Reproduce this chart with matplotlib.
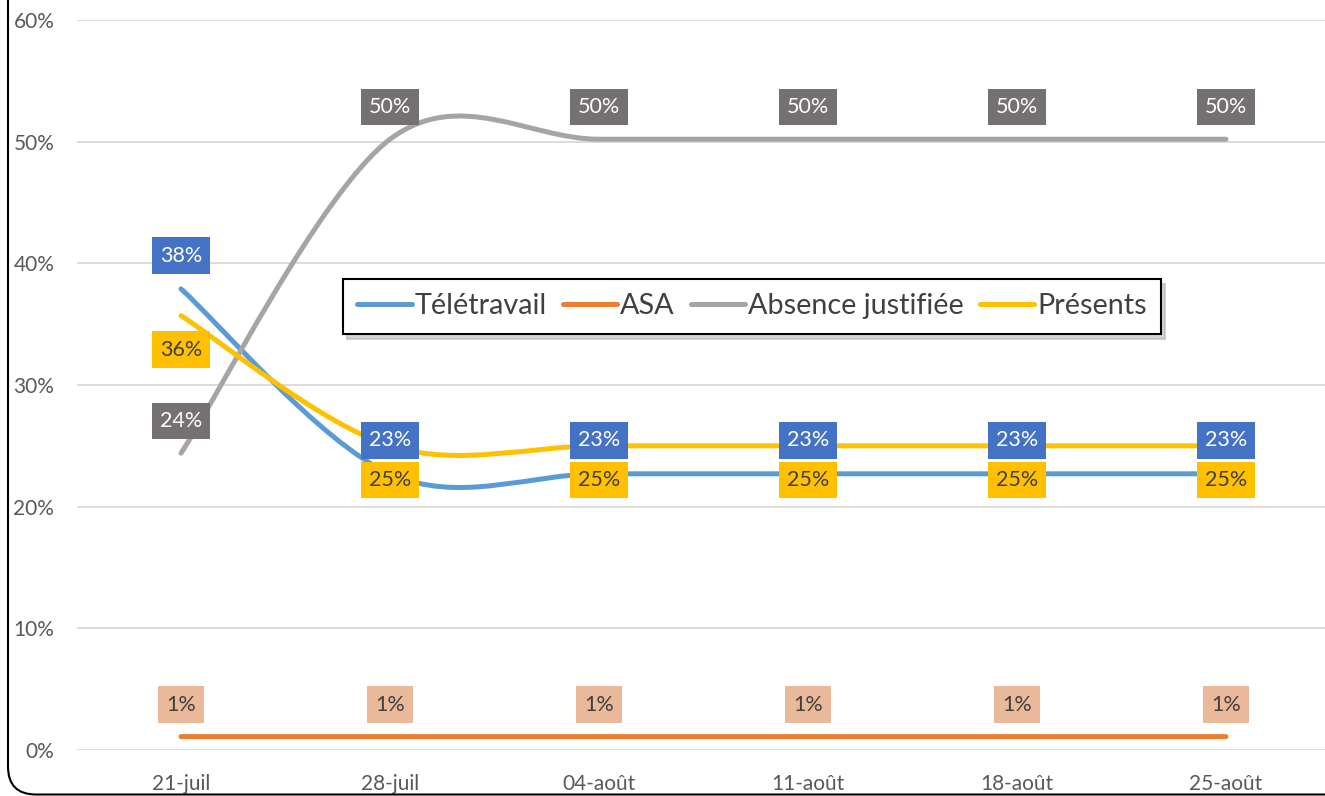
import matplotlib
matplotlib.use("Agg")
import matplotlib.pyplot as plt
from matplotlib.path import Path
from matplotlib.patches import PathPatch, FancyBboxPatch
from matplotlib.lines import Line2D
from matplotlib.transforms import IdentityTransform
import numpy as np

plt.rcParams['font.family'] = ['Lato', 'DejaVu Sans']

categories = ["21-juil", "28-juil", "04-août", "11-août", "18-août", "25-août"]
teletravail = [37.9, 22.7, 22.7, 22.7, 22.7, 22.7]
asa = [1.1, 1.1, 1.1, 1.1, 1.1, 1.1]
absence = [24.4, 50.2, 50.2, 50.2, 50.2, 50.2]
presents = [35.7, 25.0, 25.0, 25.0, 25.0, 25.0]
series_names = ["Télétravail", "ASA", "Absence justifiée", "Présents"]
y_ticks = [0, 10, 20, 30, 40, 50, 60]

line_colors = ["#5B9BD5", "#ED7D31", "#A5A5A5", "#FFC000"]
label_bg = ["#4472C4", "#EAB99A", "#767171", "#FFC000"]
label_fg = ["white", "#404040", "white", "#404040"]
label_off = [24, 23, 23, -24.5]  # points; negative = below

W, H = 1325, 796
fig = plt.figure(figsize=(W / 100, H / 100), dpi=100)
ax = fig.add_axes([76.5 / W, (H - 750) / H, 1254 / W, 730 / H])

def smooth_path(xs, ys):
    xs = np.asarray(xs, float); ys = np.asarray(ys, float)
    n = len(xs)
    verts = [(xs[0], ys[0])]
    codes = [Path.MOVETO]
    for i in range(n - 1):
        p0 = i - 1 if i > 0 else i
        p3 = i + 2 if i + 2 < n else i + 1
        c1 = (xs[i] + (xs[i + 1] - xs[p0]) / 6, ys[i] + (ys[i + 1] - ys[p0]) / 6)
        c2 = (xs[i + 1] - (xs[p3] - xs[i]) / 6, ys[i + 1] - (ys[p3] - ys[i]) / 6)
        verts += [c1, c2, (xs[i + 1], ys[i + 1])]
        codes += [Path.CURVE4] * 3
    return Path(verts, codes)

x = np.arange(len(categories))
all_series = [teletravail, asa, absence, presents]
for k, ys in enumerate(all_series):
    patch = PathPatch(smooth_path(x, ys), facecolor="none", edgecolor=line_colors[k],
                      lw=3.6, capstyle="round", joinstyle="round", zorder=3 + k)
    ax.add_patch(patch)

for k, ys in enumerate(all_series):
    for xi, yi in zip(x, ys):
        ax.annotate(f"{yi:.0f}%", (xi, yi), xytext=(0, label_off[k]), textcoords="offset points",
                    ha="center", va="center", fontsize=15.5, color=label_fg[k], zorder=10,
                    bbox=dict(boxstyle="square,pad=0.38", fc=label_bg[k], ec="none"))

ax.set_xlim(-0.5, 5.5)
ax.set_ylim(0, 60)
ax.set_yticks(y_ticks)
ax.set_yticklabels([f"{v}%" for v in y_ticks])
ax.set_xticks(x)
ax.set_xticklabels(categories)
ax.tick_params(length=0, labelsize=15, colors="#595959")
ax.tick_params(axis="y", pad=16)
ax.tick_params(axis="x", pad=17)
ax.grid(axis="y", color="#D9D9D9", lw=1.3)
ax.set_axisbelow(True)
for s in ax.spines.values():
    s.set_visible(False)

handles = [Line2D([0], [0], color=c, lw=3.6, solid_capstyle="round") for c in line_colors]
leg = ax.legend(handles, series_names, loc="center", bbox_to_anchor=(0.5387, 0.608), ncol=4,
                fontsize=20.7, frameon=True, fancybox=False, handlelength=1.9, handletextpad=0.1,
                columnspacing=0.55, borderpad=0.5, labelcolor="#404040",
                shadow={"color": "#AAAAAA", "alpha": 0.5, "ox": 3, "oy": -4})
leg.get_frame().set_edgecolor("black")
leg.get_frame().set_linewidth(1.5)
leg.set_zorder(20)

border = FancyBboxPatch((8, 1.5), 3000, 3000, boxstyle="round,pad=0,rounding_size=28",
                        transform=IdentityTransform(), fc="none", ec="black", lw=1.5)
fig.patches.append(border)

fig.savefig("out.png", dpi=100)
